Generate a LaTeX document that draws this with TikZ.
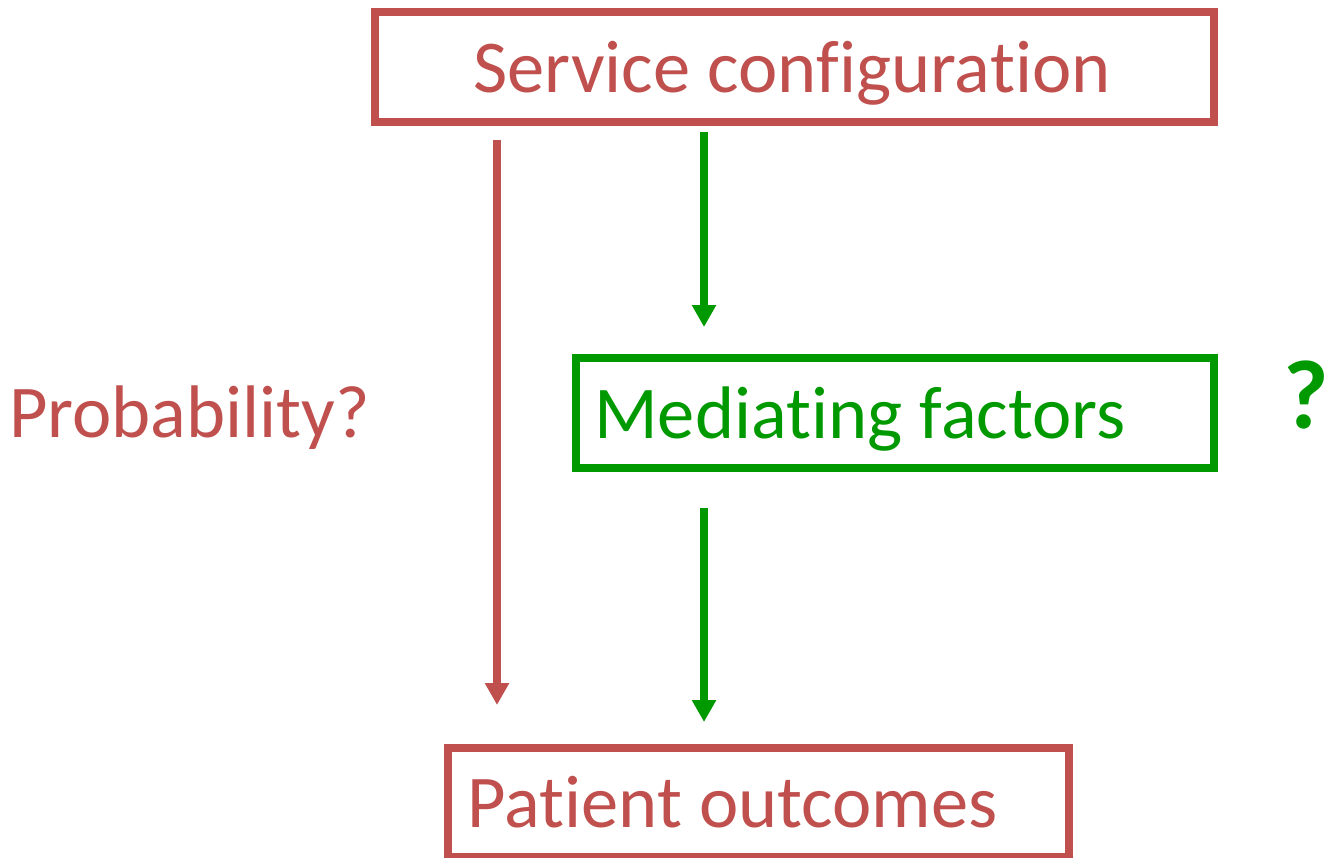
\documentclass[tikz,border=0pt]{standalone}
\usepackage{fontspec}
\setmainfont{Carlito}[RawFeature={-liga;-clig;-calt;-dlig;-hlig}]
\usetikzlibrary{arrows.meta}
\definecolor{cred}{HTML}{C0504D}
\definecolor{cgreen}{HTML}{009900}
\begin{document}
\begin{tikzpicture}[x=1pt,y=-1pt,
  box/.style={draw,line width=8pt,inner sep=0pt,outer sep=0pt},
  lbl/.style={anchor=base west,inner sep=0pt,font=\fontsize{74.5}{74.5}\selectfont},
  arr/.style={line width=8pt,-{Triangle[length=22pt,width=23pt]}}]
\useasboundingbox (0,0) rectangle (1328,857);
% boxes
\node[box,cred,minimum width=838.5pt,minimum height=109.5pt] (svc) at (794.25,66.75) {};
\node[box,cgreen,minimum width=637.5pt,minimum height=110pt] (med) at (894.75,413) {};
\node[box,cred,minimum width=621pt,minimum height=109pt] (pat) at (758.5,802.5) {};
% labels
\node[lbl,text=cred] (svct) at (473,92) {Service conf\kern0pt igura\kern0pt tion};
\node[lbl,text=cgreen] (medt) at (594,438) {Media\kern0pt ting factors};
\node[lbl,text=cred] (patt) at (467,827) {Pa\kern0pt tient outcomes};
\node[lbl,text=cred] (prob) at (9,437) {Probability?};
\node[anchor=base west,inner sep=0pt,text=cgreen,font=\fontsize{98}{98}\selectfont\bfseries] (q) at (1283,428) {?};
% arrow ends
\coordinate (r1) at (497,140);
\coordinate (r2) at (497,705);
\coordinate (g1) at (704,132);
\coordinate (g2) at (704,327);
\coordinate (g3) at (704,508);
\coordinate (g4) at (704,722);
\draw[arr,cred] (r1) -- (r2);
\draw[arr,cgreen] (g1) -- (g2);
\draw[arr,cgreen] (g3) -- (g4);
\end{tikzpicture}
\end{document}
